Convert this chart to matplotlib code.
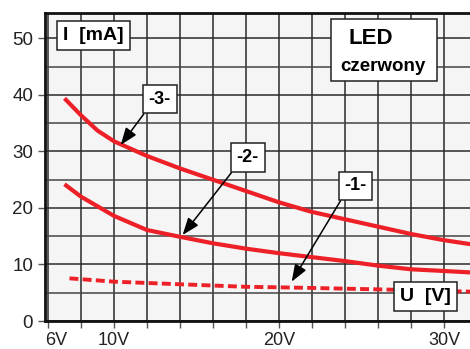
import matplotlib
matplotlib.use("Agg")
import matplotlib.pyplot as plt
from matplotlib.patches import Rectangle
from matplotlib.transforms import ScaledTranslation

plt.rcParams['font.family'] = ['Liberation Sans', 'DejaVu Sans']

# curve -1- (dashed), -2- and -3- : U [V] vs I [mA]
u1 = [7.3, 10, 14, 18, 20, 22, 24, 26, 28, 30, 31.6]
i1 = [7.55, 6.96, 6.5, 6.05, 5.96, 5.85, 5.72, 5.6, 5.45, 5.3, 5.2]

u2 = [7, 8, 10, 12, 14, 16, 18, 20, 22, 24, 26, 28, 30, 31.6]
i2 = [24.2, 22.0, 18.6, 16.1, 14.9, 13.75, 12.8, 12.0, 11.3, 10.6, 9.8, 9.15, 8.85, 8.6]

u3 = [7, 8, 9, 10, 12, 14, 16, 18, 20, 22, 24, 26, 28, 30, 31.6]
i3 = [39.4, 36.4, 33.7, 31.8, 29.2, 27.0, 25.0, 23.0, 21.0, 19.3, 18.0, 16.7, 15.4, 14.3, 13.6]

x_ticks = list(range(6, 32, 2))
x_labels = {6: "6V", 10: "10V", 20: "20V", 30: "30V"}
y_ticks = [0, 10, 20, 30, 40, 50]

red = "#ee2027"

fig = plt.figure(figsize=(4.7, 3.49), dpi=100)
ax = fig.add_axes([45 / 470, 28 / 349, 425 / 470, 308 / 349])
ax.set_facecolor("#f5f5f5")
ax.set_xlim(5.818, 31.58)
ax.set_ylim(0, 54.5)

# grid
ax.set_xticks(x_ticks)
ax.set_xticklabels([x_labels.get(v, "") for v in x_ticks])
ax.set_yticks(y_ticks)
ax.set_yticks([5, 15, 25, 35, 45], minor=True)
ax.grid(True, which="major", color="#2a2a2a", linewidth=1.1)
ax.grid(True, which="minor", axis="y", color="#444444", linewidth=1.1)
ax.set_axisbelow(True)
ax.tick_params(which="major", direction="out", length=5, width=1.0, color="#555555",
               labelsize=13.5, labelcolor="#222222")
ax.tick_params(axis="x", pad=3, labelsize=13)
ax.tick_params(axis="y", pad=3.5)
ax.tick_params(which="minor", length=0)
for s in ["left", "bottom", "top"]:
    ax.spines[s].set_linewidth(2.0)
    ax.spines[s].set_color("#111111")
ax.spines["right"].set_visible(False)

lab0 = ax.get_xticklabels()[0]
lab0.set_transform(lab0.get_transform() + ScaledTranslation(6 / 72, 0, fig.dpi_scale_trans))

# curves
ax.plot(u3, i3, color=red, linewidth=3.0, solid_capstyle="butt", solid_joinstyle="round", zorder=3)
ax.plot(u2, i2, color=red, linewidth=3.0, solid_capstyle="butt", solid_joinstyle="round", zorder=3)
ax.plot(u1, i1, color=red, linewidth=2.8, dashes=(2.3, 1.1), zorder=3)

box = dict(boxstyle="square,pad=0.32", facecolor="white", edgecolor="#222222", linewidth=1.1)
arrow = dict(arrowstyle="-|>,head_length=0.8,head_width=0.3", color="black", linewidth=1.1,
             shrinkA=0, shrinkB=0, relpos=(0, 0))

ax.annotate("-3-", xy=(10.41, 31.15), xytext=(12.77, 39.27), ha="center", va="center",
            fontsize=13, fontweight="bold", bbox=box, arrowprops=arrow, zorder=5)
ax.annotate("-2-", xy=(14.16, 15.22), xytext=(18.1, 28.9), ha="center", va="center",
            fontsize=13, fontweight="bold", bbox=box, arrowprops=arrow, zorder=5)
ax.annotate("-1-", xy=(20.77, 6.96), xytext=(24.64, 23.9), ha="center", va="center",
            fontsize=13, fontweight="bold", bbox=box, arrowprops=arrow, zorder=5)

ax.text(8.75, 50.5, "I  [mA]", ha="center", va="center", fontsize=14, fontweight="bold",
        bbox=box, zorder=5)
ax.text(28.87, 4.3, "U  [V]", ha="center", va="center", fontsize=14, fontweight="bold",
        bbox=box, zorder=5)

ax.add_patch(Rectangle((23.13, 42.5), 6.46, 10.9, facecolor="white", edgecolor="#222222",
                       linewidth=1.1, zorder=5))
ax.text(24.2, 50.0, "LED", ha="left", va="center", fontsize=16, fontweight="bold", zorder=6)
ax.text(23.7, 44.3, "czerwony", ha="left", va="baseline", fontsize=13.5, fontweight="bold", zorder=6)

fig.savefig("out.png", dpi=100)
